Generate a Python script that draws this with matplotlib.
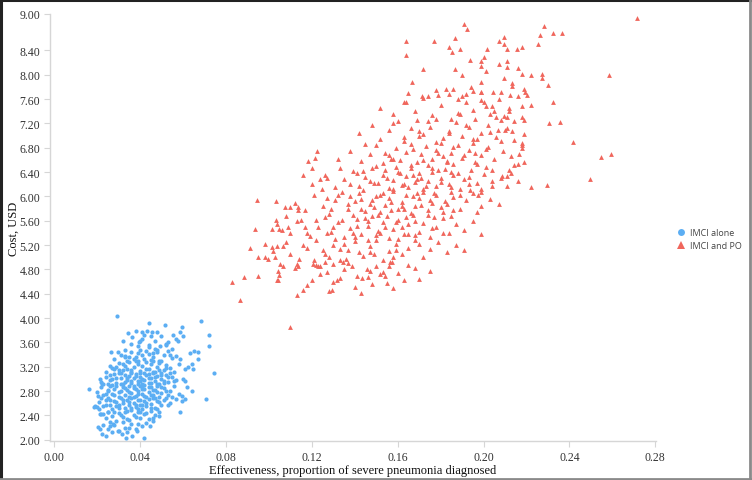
import matplotlib
matplotlib.use('Agg')
import matplotlib.pyplot as plt
from matplotlib.lines import Line2D

# IMCI alone (blue circles): effectiveness, cost
alone_x = [
    0.0293, 0.0442, 0.0684, 0.0720, 0.0720, 0.0744, 0.0707, 0.0163, 0.0186, 0.0200,
    0.0205, 0.0214, 0.0223, 0.0242, 0.0335, 0.0419, 0.0363, 0.0586, 0.0344, 0.0381,
    0.0409, 0.0432, 0.0456, 0.0479, 0.0321, 0.0363, 0.0395, 0.0516, 0.0595, 0.0586,
    0.0553, 0.0600, 0.0577, 0.0530, 0.0493, 0.0265, 0.0298, 0.0330, 0.0632, 0.0651,
    0.0670, 0.0670, 0.0586, 0.0609, 0.0623, 0.0642, 0.0646, 0.0600, 0.0609, 0.0618,
    0.0642, 0.0595, 0.0567, 0.0595, 0.0609, 0.0214, 0.0223, 0.0205, 0.0191, 0.0214,
    0.0228, 0.0260, 0.0274, 0.0298, 0.0316, 0.0340, 0.0386, 0.0446, 0.0460, 0.0488,
    0.036, 0.041, 0.044, 0.047, 0.050, 0.052, 0.055, 0.045, 0.039, 0.057, 0.042, 0.048,
    0.028, 0.031, 0.034, 0.036, 0.038, 0.040, 0.042, 0.044, 0.046, 0.048,
    0.050, 0.051, 0.053, 0.055, 0.043, 0.039, 0.047, 0.057, 0.033, 0.045,
    0.024, 0.026, 0.028, 0.030, 0.032, 0.033, 0.035, 0.036, 0.037, 0.039,
    0.040, 0.041, 0.043, 0.044, 0.045, 0.047, 0.048, 0.049, 0.051, 0.052,
    0.054, 0.056, 0.058, 0.034, 0.038, 0.042, 0.046, 0.050, 0.029, 0.031,
    0.022, 0.024, 0.025, 0.027, 0.028, 0.029, 0.031, 0.032, 0.033, 0.034,
    0.035, 0.036, 0.037, 0.038, 0.039, 0.040, 0.041, 0.042, 0.043, 0.044,
    0.045, 0.046, 0.047, 0.048, 0.049, 0.050, 0.052, 0.053, 0.055, 0.057,
    0.030, 0.026, 0.036, 0.040, 0.044, 0.051, 0.033,
    0.020, 0.022, 0.023, 0.025, 0.026, 0.027, 0.028, 0.030, 0.031, 0.032,
    0.033, 0.034, 0.035, 0.036, 0.037, 0.038, 0.039, 0.040, 0.041, 0.042,
    0.043, 0.044, 0.045, 0.046, 0.047, 0.048, 0.050, 0.051, 0.053, 0.054,
    0.056, 0.058, 0.029, 0.035, 0.041, 0.049, 0.024, 0.038,
    0.021, 0.023, 0.024, 0.026, 0.027, 0.028, 0.029, 0.031, 0.032, 0.033,
    0.034, 0.035, 0.036, 0.037, 0.038, 0.039, 0.040, 0.041, 0.042, 0.043,
    0.044, 0.045, 0.047, 0.048, 0.050, 0.052, 0.054, 0.030, 0.025, 0.046, 0.039,
    0.022, 0.024, 0.025, 0.027, 0.029, 0.030, 0.032, 0.034, 0.035, 0.037,
    0.039, 0.040, 0.042, 0.044, 0.045, 0.047, 0.049, 0.026, 0.036,
    0.023, 0.025, 0.028, 0.030, 0.033, 0.036, 0.038, 0.041, 0.043, 0.027,
    0.030, 0.031, 0.032, 0.033, 0.034, 0.035, 0.035, 0.036, 0.036, 0.037,
    0.037, 0.038, 0.038, 0.039, 0.039, 0.040, 0.040, 0.041, 0.041, 0.042,
    0.042, 0.043, 0.043, 0.044, 0.044, 0.045, 0.045, 0.046, 0.046, 0.047,
    0.047, 0.048, 0.048, 0.049, 0.050, 0.050, 0.051, 0.052, 0.052, 0.053,
    0.029, 0.028, 0.027, 0.026, 0.025, 0.024, 0.023, 0.022, 0.021, 0.028,
    0.030, 0.031, 0.033, 0.034, 0.036, 0.038, 0.040, 0.041, 0.043, 0.045,
    0.046, 0.048, 0.049, 0.051, 0.053, 0.055, 0.056, 0.054, 0.049, 0.046,
    0.041, 0.037, 0.035, 0.032, 0.030, 0.029, 0.026, 0.027, 0.044, 0.040,
    0.052, 0.054, 0.039, 0.033, 0.025, 0.032, 0.039, 0.035,
]
alone_y = [
    4.04, 3.92, 3.96, 3.73, 3.55, 3.09, 2.67, 2.84, 2.54, 2.54,
    2.21, 2.18, 2.10, 2.07, 2.03, 2.03, 2.07, 2.46, 3.76, 3.79,
    3.78, 3.79, 3.78, 3.78, 3.63, 3.69, 3.61, 3.89, 3.86, 3.78,
    3.73, 3.71, 3.63, 3.61, 3.55, 3.45, 3.45, 3.38, 3.43, 3.46,
    3.45, 3.33, 3.33, 3.17, 3.20, 3.25, 3.17, 3.00, 2.97, 2.87,
    2.81, 2.72, 2.67, 2.64, 2.67, 3.00, 2.92, 2.72, 2.56, 2.43,
    2.43, 2.23, 2.26, 2.15, 2.10, 2.13, 2.15, 2.23, 2.31, 2.39,
    3.58, 3.66, 3.52, 3.62, 3.70, 3.56, 3.50, 3.70, 3.55, 3.66, 3.72, 3.48,
    3.32, 3.40, 3.30, 3.44, 3.36, 3.48, 3.33, 3.41, 3.36, 3.44,
    3.30, 3.40, 3.46, 3.34, 3.46, 3.30, 3.50, 3.38, 3.36, 3.31,
    3.12, 3.22, 3.16, 3.26, 3.14, 3.22, 3.28, 3.11, 3.19, 3.25,
    3.13, 3.21, 3.28, 3.16, 3.24, 3.12, 3.20, 3.27, 3.15, 3.23,
    3.18, 3.12, 3.24, 3.17, 3.29, 3.10, 3.29, 3.09, 3.20, 3.10,
    2.95, 3.04, 2.92, 3.00, 3.08, 2.94, 3.02, 2.91, 3.07, 2.98,
    3.05, 2.93, 3.01, 3.08, 2.96, 3.04, 2.91, 2.99, 3.06, 2.94,
    3.02, 3.09, 2.97, 3.05, 2.92, 3.00, 3.07, 2.95, 3.03, 2.98,
    3.09, 2.98, 3.09, 2.97, 3.08, 2.93, 2.95,
    2.78, 2.86, 2.73, 2.82, 2.89, 2.76, 2.84, 2.71, 2.80, 2.87,
    2.74, 2.82, 2.89, 2.77, 2.85, 2.72, 2.80, 2.88, 2.75, 2.83,
    2.70, 2.79, 2.86, 2.74, 2.82, 2.89, 2.77, 2.85, 2.73, 2.81,
    2.88, 2.76, 2.88, 2.71, 2.89, 2.71, 2.75, 2.83,
    2.62, 2.55, 2.66, 2.58, 2.51, 2.64, 2.56, 2.68, 2.60, 2.53,
    2.65, 2.57, 2.69, 2.61, 2.54, 2.66, 2.58, 2.50, 2.63, 2.55,
    2.67, 2.59, 2.52, 2.64, 2.57, 2.68, 2.61, 2.52, 2.68, 2.69, 2.51,
    2.42, 2.35, 2.46, 2.39, 2.31, 2.44, 2.37, 2.48, 2.33, 2.41,
    2.46, 2.36, 2.43, 2.34, 2.47, 2.40, 2.45, 2.30, 2.49,
    2.25, 2.18, 2.24, 2.15, 2.20, 2.26, 2.17, 2.22, 2.28, 2.12,
    2.78, 2.92, 2.66, 2.85, 3.02, 2.62, 2.79, 2.96, 3.14, 2.70,
    2.88, 3.05, 2.58, 2.76, 2.92, 3.10, 2.66, 2.84, 3.00, 2.72,
    2.90, 3.16, 2.60, 2.86, 3.02, 2.74, 2.94, 3.12, 2.82, 2.68,
    3.04, 2.92, 2.78, 3.14, 2.86, 3.06, 2.96, 2.80, 3.18, 3.04,
    2.62, 2.74, 2.90, 2.66, 2.80, 2.58, 2.92, 2.68, 2.50, 2.46,
    2.58, 2.40, 2.46, 2.34, 2.52, 2.38, 2.46, 2.58, 2.44, 2.52,
    2.36, 2.50, 2.62, 2.66, 2.58, 2.70, 2.96, 3.10, 3.30, 3.42,
    3.40, 3.32, 3.36, 3.24, 3.14, 3.02, 3.06, 3.18, 3.56, 3.62,
    3.58, 3.40, 3.42, 3.48, 2.46, 2.30, 2.26, 2.20,
]

# IMCI and PO (red triangles): effectiveness, cost
po_x = [
    0.2716, 0.2280, 0.2325, 0.2367, 0.1910, 0.1925, 0.1637, 0.1767, 0.1865, 0.1640,
    0.1716, 0.1665, 0.2585, 0.2255, 0.2265, 0.2074, 0.2097, 0.2093, 0.2111, 0.2158,
    0.2180, 0.1837, 0.1851, 0.1888, 0.2018, 0.1939, 0.2000, 0.1986, 0.1986, 0.2013,
    0.2070, 0.2110, 0.2110, 0.1865, 0.1900, 0.2160, 0.2177, 0.2223, 0.2270, 0.2274,
    0.2302, 0.2097, 0.2134, 0.2134, 0.1990, 0.1823, 0.1860, 0.1953, 0.1990, 0.2046,
    0.2083, 0.2125, 0.2186, 0.2195, 0.2204, 0.2325, 0.2223, 0.2306, 0.2358, 0.2418,
    0.2548, 0.2595, 0.2497, 0.2297, 0.2223, 0.1637, 0.1711, 0.1740, 0.1790, 0.1879,
    0.1900, 0.1920, 0.1986, 0.2004, 0.2013, 0.2037, 0.2060, 0.2079, 0.2097, 0.2120,
    0.2177, 0.2177, 0.2186, 0.2065, 0.2134, 0.2107, 0.2180, 0.2180, 0.2144, 0.2167,
    0.2190, 0.2144, 0.2162, 0.2107, 0.2088, 0.2107, 0.2130, 0.2041, 0.1990, 0.1972,
    0.1939,
    0.0944, 0.1032, 0.0935, 0.0911, 0.0828, 0.0884, 0.0949, 0.0865, 0.1097, 0.1130,
    0.1158, 0.1042, 0.1046, 0.1200, 0.1293, 0.1316, 0.1432, 0.0981, 0.0949, 0.0995,
    0.1028, 0.0981, 0.1014, 0.1037, 0.1065, 0.1014, 0.1046, 0.1060, 0.1088, 0.1032,
    0.1074, 0.1097, 0.1135, 0.1135, 0.1158, 0.1200, 0.1181, 0.1214, 0.1223, 0.1237,
    0.1270, 0.1246, 0.1051, 0.1065, 0.1042, 0.1037, 0.1130, 0.1135, 0.1204, 0.1228,
    0.1237, 0.1260, 0.1297, 0.1344, 0.1386, 0.1455, 0.1469, 0.1409, 0.1530, 0.1539,
    0.1562, 0.1572,
    0.118, 0.124, 0.130, 0.135, 0.140, 0.146, 0.150, 0.155, 0.160, 0.165,
    0.128, 0.143, 0.158, 0.170, 0.112, 0.137, 0.152, 0.168, 0.175, 0.122,
    0.102, 0.108, 0.114, 0.118, 0.122, 0.126, 0.130, 0.133, 0.137, 0.140,
    0.144, 0.147, 0.150, 0.153, 0.156, 0.159, 0.162, 0.165, 0.168, 0.172,
    0.175, 0.179, 0.183, 0.187, 0.128, 0.142, 0.135, 0.149, 0.158, 0.170,
    0.110, 0.191,
    0.104, 0.110, 0.115, 0.119, 0.123, 0.126, 0.129, 0.132, 0.135, 0.138,
    0.141, 0.143, 0.146, 0.148, 0.151, 0.153, 0.156, 0.158, 0.160, 0.163,
    0.165, 0.167, 0.170, 0.172, 0.175, 0.178, 0.181, 0.184, 0.187, 0.191,
    0.195, 0.199, 0.139, 0.145, 0.155, 0.162, 0.168, 0.177, 0.130, 0.150,
    0.117, 0.185,
    0.112, 0.117, 0.121, 0.125, 0.128, 0.131, 0.134, 0.137, 0.140, 0.142,
    0.145, 0.147, 0.150, 0.152, 0.154, 0.156, 0.158, 0.160, 0.162, 0.164,
    0.166, 0.168, 0.170, 0.172, 0.174, 0.176, 0.178, 0.181, 0.183, 0.186,
    0.189, 0.192, 0.195, 0.199, 0.203, 0.207, 0.143, 0.149, 0.157, 0.163,
    0.169, 0.175, 0.180, 0.138, 0.153, 0.127, 0.185, 0.197,
    0.120, 0.126, 0.131, 0.135, 0.139, 0.142, 0.145, 0.148, 0.151, 0.153,
    0.156, 0.158, 0.160, 0.162, 0.164, 0.166, 0.168, 0.170, 0.172, 0.174,
    0.176, 0.178, 0.180, 0.182, 0.184, 0.186, 0.189, 0.191, 0.194, 0.197,
    0.200, 0.204, 0.208, 0.212, 0.216, 0.147, 0.159, 0.165, 0.171, 0.179,
    0.185, 0.193, 0.141, 0.154, 0.133, 0.201, 0.167,
    0.132, 0.138, 0.143, 0.147, 0.150, 0.153, 0.156, 0.159, 0.161, 0.164,
    0.166, 0.169, 0.171, 0.173, 0.176, 0.178, 0.180, 0.183, 0.185, 0.188,
    0.190, 0.193, 0.196, 0.199, 0.202, 0.205, 0.209, 0.213, 0.218, 0.158,
    0.174, 0.181, 0.167, 0.195, 0.145, 0.186,
    0.142, 0.148, 0.152, 0.156, 0.160, 0.163, 0.166, 0.169, 0.172, 0.175,
    0.178, 0.181, 0.184, 0.187, 0.190, 0.193, 0.196, 0.199, 0.202, 0.206,
    0.210, 0.214, 0.219, 0.170, 0.185, 0.158, 0.197,
    0.152, 0.158, 0.163, 0.168, 0.172, 0.176, 0.180, 0.184, 0.188, 0.192,
    0.195, 0.199, 0.203, 0.207, 0.212, 0.216, 0.178, 0.165, 0.194,
    0.134, 0.137, 0.139, 0.141, 0.143, 0.144, 0.146, 0.148, 0.149, 0.151,
    0.152, 0.154, 0.155, 0.157, 0.158, 0.159, 0.161, 0.162, 0.163, 0.164,
    0.166, 0.167, 0.168, 0.169, 0.171, 0.172, 0.173, 0.174, 0.176, 0.177,
    0.179, 0.180, 0.182, 0.183, 0.185, 0.186, 0.188, 0.189, 0.191, 0.193,
    0.195, 0.197, 0.199, 0.201, 0.204, 0.146, 0.140, 0.152, 0.160, 0.131,
    0.127, 0.122, 0.125, 0.133, 0.157, 0.163, 0.170, 0.154, 0.150, 0.144,
    0.138, 0.132, 0.129, 0.176, 0.181, 0.186, 0.178, 0.184, 0.192, 0.196,
    0.203, 0.208, 0.211, 0.205, 0.189, 0.174, 0.165, 0.159, 0.147, 0.136,
    0.118, 0.113, 0.108, 0.116, 0.121, 0.127, 0.133, 0.148, 0.156, 0.163,
]
po_y = [
    8.94, 8.81, 8.68, 8.68, 8.83, 8.76, 8.56, 8.56, 8.60, 8.33,
    8.09, 7.89, 8.00, 8.51, 8.65, 8.56, 8.63, 8.50, 8.43, 8.43,
    8.46, 8.45, 8.38, 8.43, 8.43, 8.25, 8.30, 8.22, 8.15, 8.07,
    8.18, 8.22, 8.13, 8.09, 8.00, 8.12, 8.02, 7.99, 8.02, 7.95,
    7.84, 7.94, 7.86, 7.82, 7.89, 7.77, 7.76, 7.74, 7.71, 7.72,
    7.72, 7.67, 7.77, 7.71, 7.67, 7.56, 7.51, 7.21, 7.23, 6.90,
    6.65, 6.70, 6.29, 6.19, 6.16, 7.56, 7.66, 7.66, 7.67, 7.61,
    7.66, 7.69, 7.58, 7.56, 7.49, 7.48, 7.31, 7.26, 7.33, 7.41,
    7.48, 7.31, 7.26, 7.10, 7.08, 7.13, 6.88, 6.84, 6.93, 6.70,
    6.57, 6.52, 6.54, 6.18, 6.34, 6.33, 6.38, 6.26, 6.08, 6.03,
    6.10,
    5.95, 5.93, 5.47, 5.16, 4.60, 4.68, 4.70, 4.29, 3.86, 4.38,
    4.47, 4.63, 4.71, 4.62, 4.47, 4.63, 4.66, 5.01, 5.01, 4.98,
    5.01, 5.22, 5.17, 5.19, 5.19, 5.47, 5.47, 5.45, 5.50, 5.62,
    5.83, 5.83, 5.77, 5.83, 6.36, 6.46, 6.59, 6.64, 6.74, 6.29,
    6.31, 6.13, 4.89, 4.85, 4.78, 4.63, 4.89, 4.86, 4.89, 4.86,
    4.85, 4.93, 4.89, 4.93, 4.86, 4.81, 4.78, 4.70, 4.76, 4.70,
    4.93, 4.93,
    4.55, 4.72, 4.60, 4.80, 4.52, 4.68, 4.85, 4.58, 4.75, 4.88,
    4.45, 4.42, 4.50, 4.65, 4.82, 4.90, 4.72, 4.82, 4.78, 4.88,
    5.10, 5.25, 4.98, 5.15, 5.28, 5.05, 5.20, 4.95, 5.12, 5.26,
    5.02, 5.18, 5.29, 4.96, 5.10, 5.22, 5.05, 5.16, 5.28, 5.00,
    5.14, 5.25, 5.08, 5.20, 5.00, 5.08, 5.22, 5.05, 5.00, 5.22,
    5.05, 5.12,
    5.55, 5.40, 5.62, 5.35, 5.50, 5.66, 5.42, 5.58, 5.33, 5.48,
    5.63, 5.38, 5.52, 5.68, 5.44, 5.58, 5.32, 5.47, 5.62, 5.38,
    5.54, 5.69, 5.42, 5.57, 5.34, 5.50, 5.65, 5.40, 5.55, 5.45,
    5.60, 5.38, 5.40, 5.64, 5.68, 5.50, 5.36, 5.66, 5.50, 5.36,
    5.50, 5.68,
    5.90, 5.78, 6.02, 5.85, 5.72, 5.95, 6.08, 5.80, 5.93, 6.05,
    5.76, 5.88, 6.00, 5.74, 5.86, 5.98, 6.09, 5.79, 5.91, 6.03,
    5.73, 5.85, 5.97, 6.08, 5.78, 5.90, 6.02, 5.75, 5.87, 5.99,
    5.80, 5.94, 6.05, 5.84, 5.96, 5.88, 5.96, 5.82, 5.91, 5.80,
    6.05, 5.95, 5.82, 6.01, 6.06, 5.98, 6.08, 5.74,
    6.20, 6.35, 6.15, 6.28, 6.42, 6.18, 6.32, 6.46, 6.22, 6.36,
    6.14, 6.27, 6.41, 6.19, 6.33, 6.47, 6.24, 6.38, 6.12, 6.26,
    6.40, 6.17, 6.31, 6.45, 6.21, 6.35, 6.13, 6.28, 6.43, 6.22,
    6.37, 6.18, 6.30, 6.44, 6.25, 6.25, 6.48, 6.16, 6.30, 6.44,
    6.40, 6.20, 6.38, 6.44, 6.46, 6.48, 6.36,
    6.62, 6.75, 6.58, 6.70, 6.84, 6.55, 6.68, 6.80, 6.60, 6.73,
    6.86, 6.57, 6.70, 6.83, 6.62, 6.76, 6.88, 6.58, 6.71, 6.84,
    6.63, 6.77, 6.56, 6.69, 6.82, 6.61, 6.74, 6.66, 6.80, 6.62,
    6.52, 6.66, 6.78, 6.88, 6.86, 6.53,
    7.05, 7.18, 6.95, 7.10, 7.24, 6.98, 7.12, 7.26, 7.02, 7.15,
    7.28, 6.96, 7.08, 7.22, 7.00, 7.14, 7.27, 7.04, 7.18, 6.97,
    7.10, 7.24, 7.02, 7.08, 7.28, 7.20, 6.94,
    7.45, 7.36, 7.55, 7.40, 7.62, 7.34, 7.50, 7.68, 7.38, 7.55,
    7.42, 7.72, 7.36, 7.60, 7.45, 7.66, 7.75, 7.70, 7.80,
    5.62, 5.88, 5.70, 5.52, 5.80, 6.10, 5.60, 5.94, 6.22, 5.70,
    6.02, 5.50, 6.30, 5.78, 6.12, 5.58, 6.38, 5.84, 6.20, 5.66,
    6.52, 6.00, 5.60, 6.28, 5.86, 6.60, 6.18, 5.70, 6.46, 6.05,
    6.72, 6.24, 5.92, 6.56, 6.16, 6.82, 6.38, 6.02, 6.68, 6.32,
    6.95, 6.54, 6.12, 6.78, 6.44, 5.28, 5.34, 5.40, 5.30, 5.30,
    5.40, 5.62, 5.12, 5.14, 6.62, 6.92, 7.00, 6.72, 6.50, 6.42,
    6.20, 6.02, 5.80, 5.48, 5.40, 5.78, 6.90, 7.04, 7.18, 6.72,
    7.06, 6.92, 7.30, 7.40, 7.36, 7.24, 5.38, 5.12, 5.08, 4.98,
    5.40, 5.60, 5.68, 5.20, 4.96, 4.76, 4.66, 4.56, 4.86, 4.62,
]

series_names = ['IMCI alone', 'IMCI and PO']
x_ticks = [0.00, 0.04, 0.08, 0.12, 0.16, 0.20, 0.24, 0.28]
y_ticks = [2.0, 2.4, 2.8, 3.2, 3.6, 4.0, 4.4, 4.8, 5.2, 5.6, 6.0, 6.4, 6.8,
           7.2, 7.6, 8.0, 8.4, 9.0]

blue = '#5caef3'
red = '#f0665c'
axis_grey = '#d6d6d6'
serif = ['Liberation Serif', 'DejaVu Serif']

fig = plt.figure(figsize=(7.52, 4.81), dpi=100)
ax = fig.add_axes([50 / 752, 1 - 442 / 481, 606 / 752, 427 / 481])

ax.scatter(alone_x, alone_y, s=9, marker='o', color=blue, linewidths=0, zorder=3)
ax.scatter(po_x, po_y, s=12, marker='^', color=red, linewidths=0, zorder=3)

ax.set_xlim(-0.0019, 0.2803)
ax.set_ylim(1.98, 9.0)
ax.set_xticks(x_ticks)
ax.set_yticks(y_ticks)
ax.set_xticklabels([f'{v:.2f}' for v in x_ticks], fontfamily=serif, fontsize=8.5, color='#333333')
ax.set_yticklabels([f'{v:.2f}' for v in y_ticks], fontfamily=serif, fontsize=8.5, color='#333333')
ax.tick_params(axis='both', length=4, width=0.8, color=axis_grey, pad=3)

for side in ['top', 'right']:
    ax.spines[side].set_visible(False)
for side in ['left', 'bottom']:
    ax.spines[side].set_color(axis_grey)
    ax.spines[side].set_linewidth(1.0)

ax.set_xlabel('Effectiveness, proportion of severe pneumonia diagnosed',
              fontfamily=serif, fontsize=9, color='#111111', labelpad=1)
ax.set_ylabel('Cost, USD', fontfamily=serif, fontsize=9, color='#111111')
ax.yaxis.set_label_coords(-0.05, 0.5)

handles = [
    Line2D([], [], linestyle='none', marker='o', markersize=5, color=blue, markeredgewidth=0),
    Line2D([], [], linestyle='none', marker='^', markersize=5.5, color=red, markeredgewidth=0),
]
leg = fig.legend(handles, series_names, loc='upper left',
                 bbox_to_anchor=(676 / 752, 1 - 229 / 481), frameon=False,
                 prop={'family': 'Open Sans', 'size': 6.5},
                 handlelength=1.0, handletextpad=0.6, labelspacing=0.45,
                 borderaxespad=0, borderpad=0)
for t in leg.get_texts():
    t.set_color('#444444')

# outer frame: dark on top/left, grey on right/bottom
fig.add_artist(Line2D([0, 1], [0.998, 0.998], transform=fig.transFigure, color='#222222', lw=2.2))
fig.add_artist(Line2D([0.0015, 0.0015], [0, 1], transform=fig.transFigure, color='#222222', lw=2.2))
fig.add_artist(Line2D([0.998, 0.998], [0, 1], transform=fig.transFigure, color='#8a8a8a', lw=2.0))
fig.add_artist(Line2D([0, 1], [0.003, 0.003], transform=fig.transFigure, color='#8a8a8a', lw=2.0))

fig.savefig('out.png', dpi=100)
